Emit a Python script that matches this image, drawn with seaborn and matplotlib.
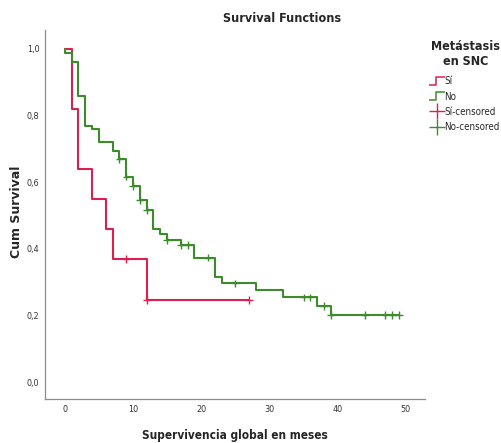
import pandas as pd
import seaborn as sns
import matplotlib.pyplot as plt
from matplotlib.lines import Line2D
from matplotlib.path import Path
from matplotlib.ticker import FuncFormatter

# Step curves (time in months, cumulative survival)
si_time = [0, 1, 2, 4, 6, 7, 12, 27]
si_surv = [1.0, 0.819, 0.639, 0.549, 0.459, 0.369, 0.246, 0.246]

no_time = [0, 0.1, 1, 2, 3, 4, 5, 7, 8, 9, 10, 11, 12, 13, 14, 15, 17, 19,
           22, 23, 28, 32, 37, 39, 49]
no_surv = [1.0, 0.987, 0.962, 0.860, 0.770, 0.759, 0.720, 0.695, 0.670,
           0.617, 0.589, 0.547, 0.517, 0.459, 0.444, 0.426, 0.411, 0.373,
           0.314, 0.296, 0.275, 0.254, 0.228, 0.201, 0.201]

# Censored observations
si_cens_time = [9, 12, 27]
si_cens_surv = [0.369, 0.246, 0.246]
no_cens_time = [8, 9, 10, 11, 12, 15, 17, 18, 21, 25, 35, 36, 38, 39, 44, 47, 48, 49]
no_cens_surv = [0.670, 0.617, 0.589, 0.547, 0.517, 0.426, 0.411, 0.411, 0.373,
                0.296, 0.254, 0.254, 0.228, 0.201, 0.201, 0.201, 0.201, 0.201]

colors = {'Sí': '#dc1f4b', 'No': '#3c8c2c'}

curves = pd.concat([
    pd.DataFrame({'t': si_time, 's': si_surv, 'grupo': 'Sí'}),
    pd.DataFrame({'t': no_time, 's': no_surv, 'grupo': 'No'}),
])
cens = pd.concat([
    pd.DataFrame({'t': si_cens_time, 's': si_cens_surv, 'grupo': 'Sí'}),
    pd.DataFrame({'t': no_cens_time, 's': no_cens_surv, 'grupo': 'No'}),
])

sns.set_style('white')
plt.rcParams['font.family'] = ['DejaVu Sans']
plt.rcParams['font.stretch'] = 'condensed'

fig = plt.figure(figsize=(5.01, 4.43), dpi=100)
ax = fig.add_axes([45 / 501, 1 - 399 / 443, 380 / 501, 369 / 443])

sns.lineplot(data=curves, x='t', y='s', hue='grupo', palette=colors,
             drawstyle='steps-post', estimator=None, sort=False,
             legend=False, linewidth=1.5, ax=ax)
sns.scatterplot(data=cens, x='t', y='s', hue='grupo', palette=colors,
                marker='+', s=28, linewidth=1.0, legend=False, ax=ax)

ax.set_xlim(-2.9, 52.8)
ax.set_ylim(-0.051, 1.057)
ax.set_xticks([0, 10, 20, 30, 40, 50])
ax.set_yticks([0, 0.2, 0.4, 0.6, 0.8, 1.0])
ax.yaxis.set_major_formatter(FuncFormatter(lambda v, _: f'{v:.1f}'.replace('.', ',')))
ax.tick_params(length=0, labelsize=6.5, colors='#333333', pad=4)
for side in ['top', 'right']:
    ax.spines[side].set_visible(False)
for side in ['left', 'bottom']:
    ax.spines[side].set_color('#8c8c8c')
    ax.spines[side].set_linewidth(0.9)
ax.set_xlabel('')
ax.set_ylabel('')

fig.text(282 / 501, 1 - 18 / 443, 'Survival Functions', ha='center', va='center',
         fontsize=9, fontweight='bold')
fig.text(235 / 501, 1 - 436 / 443, 'Supervivencia global en meses', ha='center',
         va='center', fontsize=8.5, fontweight='bold')
fig.text(17 / 501, 1 - 212 / 443, 'Cum Survival', ha='center', va='center',
         rotation=90, fontsize=9, fontweight='bold', fontstretch='normal')

# legend with step icons and censor crosses
step = Path([(-1, -0.5), (-0.1, -0.5), (-0.1, 0.5), (1, 0.5)],
            [Path.MOVETO, Path.LINETO, Path.LINETO, Path.LINETO])
handles = [
    Line2D([], [], color=colors['Sí'], marker=step, markersize=12, linestyle='none',
           markerfacecolor='none', markeredgewidth=1.1),
    Line2D([], [], color=colors['No'], marker=step, markersize=12, linestyle='none',
           markerfacecolor='none', markeredgewidth=1.1),
    Line2D([], [], color=colors['Sí'], marker='+', markersize=11, linestyle='none',
           markeredgewidth=1.0),
    Line2D([], [], color=colors['No'], marker='+', markersize=11, linestyle='none',
           markeredgewidth=1.0),
]
labels = ['Sí', 'No', 'Sí-censored', 'No-censored']
leg = fig.legend(handles, labels, title='Metástasis\nen SNC', loc='upper left',
                 bbox_to_anchor=(426 / 501, 1 - 35 / 443), frameon=False,
                 fontsize=7, handlelength=1.2, handletextpad=0.15,
                 labelspacing=0.55, borderpad=0)
leg.get_title().set_fontweight('bold')
leg.get_title().set_fontsize(9)
leg.get_title().set_multialignment('center')
leg._legend_box.sep = 6

fig.savefig('out.png', dpi=100)
